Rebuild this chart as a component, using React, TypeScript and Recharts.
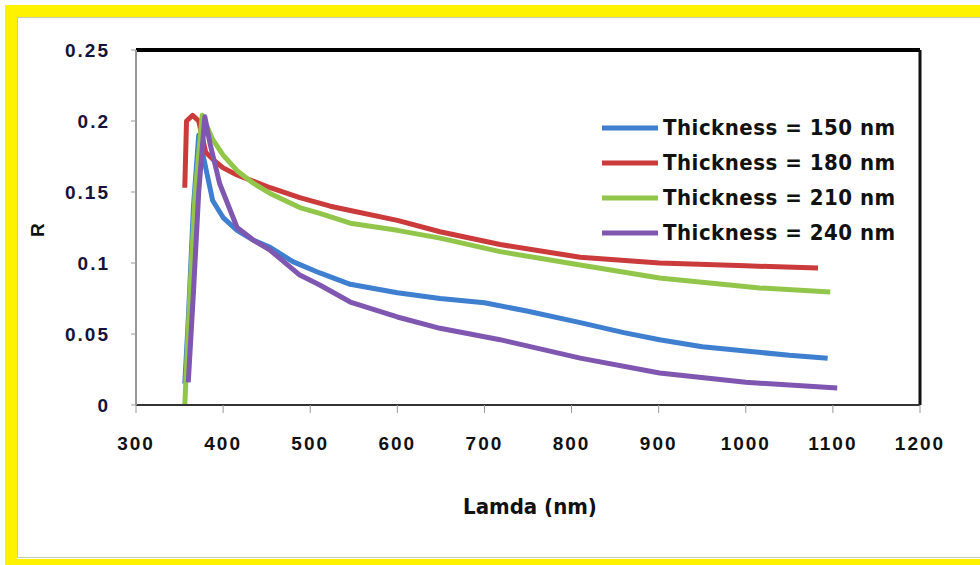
import React from "react";
import {
  Legend,
  Line,
  LineChart,
  ReferenceLine,
  XAxis,
  YAxis,
} from "recharts";

// wavelength (nm) and reflectance, one pair of arrays per film
const lambda150 = [356, 360, 366, 372, 379, 388, 400, 416, 435, 454, 480, 511, 546, 600, 649, 700, 750, 810, 860, 901, 950, 1000, 1050, 1094];
const r150 = [0.015, 0.06, 0.14, 0.19, 0.17, 0.144, 0.132, 0.123, 0.116, 0.111, 0.101, 0.093, 0.085, 0.079, 0.075, 0.072, 0.066, 0.058, 0.051, 0.046, 0.041, 0.038, 0.035, 0.033];

const lambda180 = [356, 358, 365, 372, 380, 390, 400, 416, 454, 488, 523, 546, 600, 649, 718, 810, 901, 1000, 1083];
const r180 = [0.153, 0.2, 0.204, 0.2, 0.178, 0.172, 0.167, 0.162, 0.153, 0.146, 0.14, 0.137, 0.13, 0.122, 0.113, 0.104, 0.1, 0.098, 0.0965];

const lambda210 = [356, 362, 368, 376, 388, 400, 416, 435, 454, 488, 511, 546, 600, 649, 718, 810, 901, 1016, 1097];
const r210 = [0.0, 0.08, 0.15, 0.204, 0.187, 0.176, 0.165, 0.156, 0.149, 0.139, 0.135, 0.128, 0.123, 0.1175, 0.108, 0.0986, 0.0894, 0.0824, 0.0796];

const lambda240 = [360, 366, 372, 379, 385, 396, 416, 435, 454, 488, 511, 546, 600, 649, 718, 810, 901, 1000, 1105];
const r240 = [0.016, 0.08, 0.15, 0.203, 0.184, 0.156, 0.125, 0.116, 0.109, 0.0915, 0.0845, 0.0725, 0.062, 0.054, 0.046, 0.033, 0.0225, 0.016, 0.012];

const xTicks = [300, 400, 500, 600, 700, 800, 900, 1000, 1100, 1200];
const yTicks = [0, 0.05, 0.1, 0.15, 0.2, 0.25];

const zip = (xs: number[], ys: number[]) =>
  xs.map((x, i) => ({ lambda: x, r: ys[i] }));

const series = [
  { name: "Thickness = 150 nm", color: "#3F7FCF", data: zip(lambda150, r150) },
  { name: "Thickness = 180 nm", color: "#CC3B3B", data: zip(lambda180, r180) },
  { name: "Thickness = 210 nm", color: "#92C64A", data: zip(lambda210, r210) },
  { name: "Thickness = 240 nm", color: "#7F56B0", data: zip(lambda240, r240) },
];

const FONT = "'Liberation Sans', Arial, sans-serif";
const NARROW = "'Liberation Sans Narrow', 'DejaVu Sans Condensed', Arial, sans-serif";
const YELLOW = "#FFF200";

function LegendBox() {
  return (
    <div style={{ fontFamily: NARROW, fontWeight: 700, fontSize: 22, color: "#111" }}>
      {series.map((s) => (
        <div key={s.name} style={{ display: "flex", alignItems: "center", height: 35 }}>
          <svg width={60} height={10}>
            <line x1={2} y1={5} x2={58} y2={5} stroke={s.color} strokeWidth={5} />
          </svg>
          <span style={{ marginLeft: 3, letterSpacing: 0.5 }}>{s.name}</span>
        </div>
      ))}
    </div>
  );
}

export default function App() {
  return (
    <div
      style={{
        position: "fixed",
        left: 0,
        top: 0,
        width: 980,
        height: 565,
        background: "#fff",
        overflow: "hidden",
      }}
    >
      {/* frame: yellow top / left / bottom, thin grey inner line */}
      <div style={{ position: "absolute", left: 5, top: 5, width: 975, height: 12, background: YELLOW }} />
      <div style={{ position: "absolute", left: 5, top: 5, width: 12, height: 560, background: YELLOW }} />
      <div style={{ position: "absolute", left: 5, top: 559, width: 975, height: 6, background: YELLOW }} />
      <div
        style={{
          position: "absolute",
          left: 17,
          top: 17,
          width: 970,
          height: 541,
          boxSizing: "border-box",
          border: "1px solid #c9c9b4",
        }}
      />

      <div style={{ position: "absolute", left: 0, top: 0 }}>
        <LineChart
          width={980}
          height={565}
          margin={{ top: 50, right: 60, bottom: 110, left: 76 }}
        >
          <XAxis
            type="number"
            dataKey="lambda"
            domain={[300, 1200]}
            ticks={xTicks}
            interval={0}
            allowDataOverflow
            height={50}
            axisLine={{ stroke: "#333", strokeWidth: 2 }}
            tickLine={{ stroke: "#999" }}
            tickSize={8}
            tickMargin={24}
            tick={{ fill: "#111", fontFamily: FONT, fontWeight: 700, fontSize: 19, letterSpacing: 2 }}
          />
          <YAxis
            type="number"
            dataKey="r"
            domain={[0, 0.25]}
            ticks={yTicks}
            interval={0}
            width={60}
            axisLine={{ stroke: "#999", strokeWidth: 2 }}
            tickLine={{ stroke: "#999" }}
            tickSize={5}
            tickMargin={21}
            tick={{ fill: "#14143a", fontFamily: FONT, fontWeight: 700, fontSize: 19, letterSpacing: 2 }}
          />
          <ReferenceLine y={0.25} stroke="#000" strokeWidth={4} />
          <ReferenceLine x={1200} stroke="#111" strokeWidth={3} />
          {series.map((s) => (
            <Line
              key={s.name}
              data={s.data}
              dataKey="r"
              name={s.name}
              type="linear"
              stroke={s.color}
              strokeWidth={5}
              strokeLinejoin="round"
              dot={false}
              isAnimationActive={false}
            />
          ))}
          <Legend
            layout="horizontal"
            verticalAlign="middle"
            align="center"
            wrapperStyle={{ left: 600, top: 110, width: 320 }}
            content={() => <LegendBox />}
          />
        </LineChart>
      </div>

      <div
        style={{
          position: "absolute",
          left: 460,
          top: 494,
          width: 140,
          textAlign: "center",
          fontFamily: NARROW,
          fontWeight: 700,
          fontSize: 22,
          color: "#111",
        }}
      >
        Lamda (nm)
      </div>
      <div
        style={{
          position: "absolute",
          left: 28,
          top: 218,
          width: 22,
          height: 24,
          transform: "rotate(-90deg)",
          textAlign: "center",
          fontFamily: FONT,
          fontWeight: 700,
          fontSize: 19,
          color: "#111",
        }}
      >
        R
      </div>
    </div>
  );
}
